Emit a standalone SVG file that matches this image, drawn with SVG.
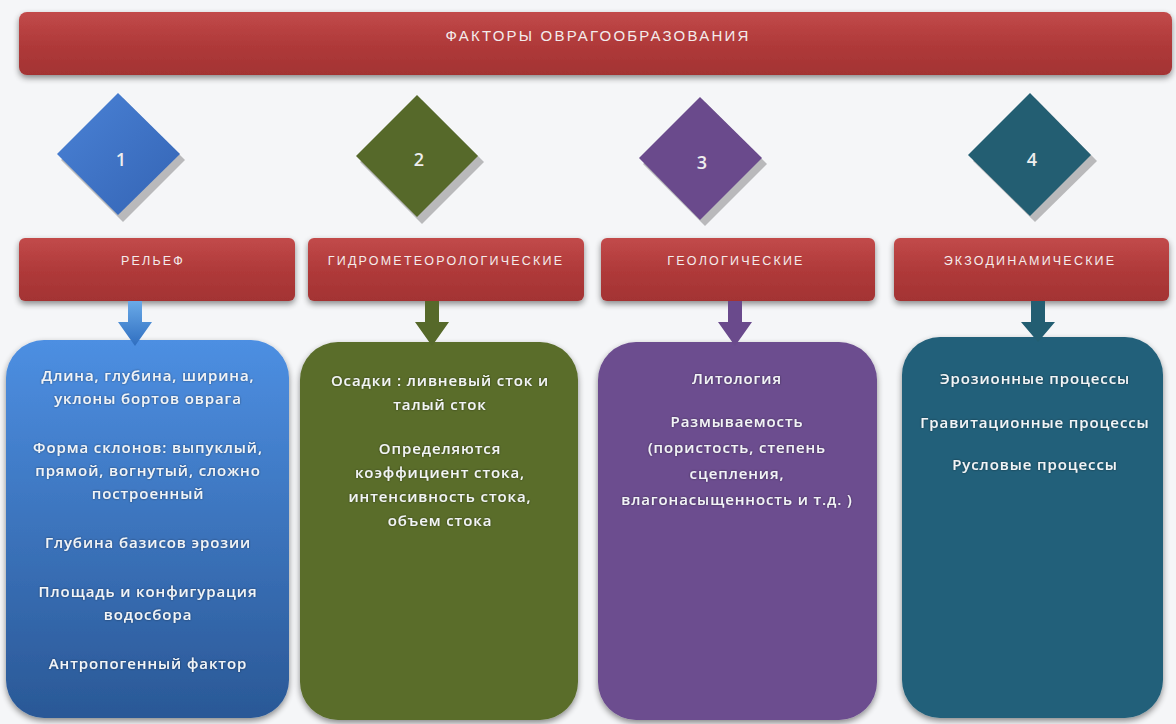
<svg xmlns="http://www.w3.org/2000/svg" width="1176" height="724" viewBox="0 0 1176 724">
  <defs>
    <linearGradient id="gRed" x1="0" y1="0" x2="0" y2="1">
      <stop offset="0" stop-color="#c24a4a"/>
      <stop offset="0.5" stop-color="#b03a3a"/>
      <stop offset="1" stop-color="#a33333"/>
    </linearGradient>
    <linearGradient id="gBlue" x1="0" y1="0" x2="0" y2="1">
      <stop offset="0" stop-color="#4d8fe2"/>
      <stop offset="1" stop-color="#2a5896"/>
    </linearGradient>
    <linearGradient id="gBlueD" x1="0" y1="0" x2="1" y2="1">
      <stop offset="0" stop-color="#4a82d6"/>
      <stop offset="1" stop-color="#3464b4"/>
    </linearGradient>
    <linearGradient id="gBlueA" x1="0" y1="0" x2="0" y2="1">
      <stop offset="0" stop-color="#6aaae8"/>
      <stop offset="1" stop-color="#2f6ec0"/>
    </linearGradient>
    <filter id="sh" x="-10%" y="-10%" width="120%" height="125%">
      <feGaussianBlur in="SourceAlpha" stdDeviation="3"/>
      <feOffset dx="0" dy="3" result="b"/>
      <feComponentTransfer><feFuncA type="linear" slope="0.45"/></feComponentTransfer>
      <feMerge><feMergeNode/><feMergeNode in="SourceGraphic"/></feMerge>
    </filter>
    <filter id="glow" x="-5%" y="-30%" width="110%" height="160%">
      <feGaussianBlur in="SourceAlpha" stdDeviation="1.2"/>
      <feComponentTransfer><feFuncA type="linear" slope="0.5"/></feComponentTransfer>
      <feMerge><feMergeNode/><feMergeNode in="SourceGraphic"/></feMerge>
    </filter>
  </defs>
  <style>
    .hdr { font-family: "Liberation Sans Narrow", "Liberation Sans", sans-serif; font-size: 12.5px; fill: #f4ecec; text-anchor: middle; letter-spacing: 2.2px; }
    .ttl { font-family: "Liberation Sans Narrow", "Liberation Sans", sans-serif; font-size: 15px; fill: #f4ecec; text-anchor: middle; letter-spacing: 2.2px; }
    .num { font-family: "Open Sans", "Liberation Sans", sans-serif; font-size: 18px; font-weight: 600; fill: #eeeeee; text-anchor: middle; }
    .txt { font-family: "Open Sans", "Liberation Sans", sans-serif; font-size: 15px; font-weight: 600; fill: #f2f4f6; text-anchor: middle; letter-spacing: 0.9px; }
    .dsh { fill: #b9b9bb; }
  </style>

  <rect x="0" y="0" width="1176" height="724" fill="#f5f6f8"/>

  <!-- Title -->
  <g id="title">
    <rect x="19" y="12" width="1153" height="63" rx="8" fill="url(#gRed)" filter="url(#sh)"/>
    <text class="ttl" x="598" y="41">ФАКТОРЫ ОВРАГООБРАЗОВАНИЯ</text>
  </g>

  <!-- Diamonds -->
  <g id="diamond1">
    <polygon class="dsh" points="123,98 185,160 123,222 61,160"/>
    <polygon points="118,93 180,154 118,215 57,154" fill="url(#gBlueD)"/>
    <text class="num" x="121" y="166">1</text>
  </g>
  <g id="diamond2">
    <polygon class="dsh" points="422,100 484,162 422,224 360,162"/>
    <polygon points="417,95 478,156 417,217 356,156" fill="#56692a"/>
    <text class="num" x="419" y="166">2</text>
  </g>
  <g id="diamond3">
    <polygon class="dsh" points="705,102 767,164 705,226 643,164"/>
    <polygon points="700,97 762,158 700,220 639,158" fill="#6a4a8c"/>
    <text class="num" x="702" y="169">3</text>
  </g>
  <g id="diamond4">
    <polygon class="dsh" points="1035,98 1097,161 1035,222 973,161"/>
    <polygon points="1030,93 1091,155 1030,216 968,155" fill="#235e72"/>
    <text class="num" x="1032" y="166">4</text>
  </g>

  <!-- Headers -->
  <g id="header1">
    <rect x="19" y="238" width="276" height="63" rx="6" fill="url(#gRed)" filter="url(#sh)"/>
    <text class="hdr" x="153" y="265">РЕЛЬЕФ</text>
  </g>
  <g id="header2">
    <rect x="308" y="238" width="276" height="63" rx="6" fill="url(#gRed)" filter="url(#sh)"/>
    <text class="hdr" x="446" y="265">ГИДРОМЕТЕОРОЛОГИЧЕСКИЕ</text>
  </g>
  <g id="header3">
    <rect x="601" y="238" width="274" height="63" rx="6" fill="url(#gRed)" filter="url(#sh)"/>
    <text class="hdr" x="736" y="265">ГЕОЛОГИЧЕСКИЕ</text>
  </g>
  <g id="header4">
    <rect x="894" y="238" width="275" height="63" rx="6" fill="url(#gRed)" filter="url(#sh)"/>
    <text class="hdr" x="1030" y="265">ЭКЗОДИНАМИЧЕСКИЕ</text>
  </g>

  <!-- Content boxes -->
  <g id="box1">
    <rect x="6" y="340" width="283" height="378" rx="38" fill="url(#gBlue)" filter="url(#sh)"/>
    <g filter="url(#glow)">
      <text class="txt" x="148" y="381">Длина, глубина, ширина,</text>
      <text class="txt" x="148" y="404">уклоны бортов оврага</text>
      <text class="txt" x="148" y="453">Форма склонов: выпуклый,</text>
      <text class="txt" x="148" y="476">прямой, вогнутый, сложно</text>
      <text class="txt" x="148" y="499">построенный</text>
      <text class="txt" x="148" y="548">Глубина базисов эрозии</text>
      <text class="txt" x="148" y="597">Площадь и конфигурация</text>
      <text class="txt" x="148" y="620">водосбора</text>
      <text class="txt" x="148" y="669">Антропогенный фактор</text>
    </g>
  </g>
  <g id="box2">
    <rect x="300" y="342" width="278" height="378" rx="38" fill="#5a6d2b" filter="url(#sh)"/>
    <g filter="url(#glow)">
      <text class="txt" x="440" y="386">Осадки : ливневый сток и</text>
      <text class="txt" x="440" y="410">талый сток</text>
      <text class="txt" x="440" y="454">Определяются</text>
      <text class="txt" x="440" y="478">коэффициент стока,</text>
      <text class="txt" x="440" y="502">интенсивность стока,</text>
      <text class="txt" x="440" y="526">объем стока</text>
    </g>
  </g>
  <g id="box3">
    <rect x="598" y="342" width="279" height="378" rx="38" fill="#6c4d8f" filter="url(#sh)"/>
    <g filter="url(#glow)">
      <text class="txt" x="737" y="384">Литология</text>
      <text class="txt" x="737" y="427">Размываемость</text>
      <text class="txt" x="737" y="453">(пористость, степень</text>
      <text class="txt" x="737" y="479">сцепления,</text>
      <text class="txt" x="737" y="505">влагонасыщенность и т.д. )</text>
    </g>
  </g>
  <g id="box4">
    <rect x="902" y="337" width="261" height="381" rx="38" fill="#23607a" filter="url(#sh)"/>
    <g filter="url(#glow)">
      <text class="txt" x="1035" y="384">Эрозионные процессы</text>
      <text class="txt" x="1035" y="428">Гравитационные процессы</text>
      <text class="txt" x="1035" y="470">Русловые процессы</text>
    </g>
  </g>

  <!-- Connectors -->
  <g id="connectors">
    <path d="M128,301 H142 V322 H152 L135,346 L118,322 H128 Z" fill="url(#gBlueA)"/>
    <path d="M425,301 H439 V322 H449 L432,346 L415,322 H425 Z" fill="#56692a"/>
    <path d="M728,301 H742 V322 H752 L735,346 L718,322 H728 Z" fill="#6a4a8c"/>
    <path d="M1031,301 H1045 V322 H1055 L1038,342 L1021,322 H1031 Z" fill="#235e72"/>
  </g>
</svg>
